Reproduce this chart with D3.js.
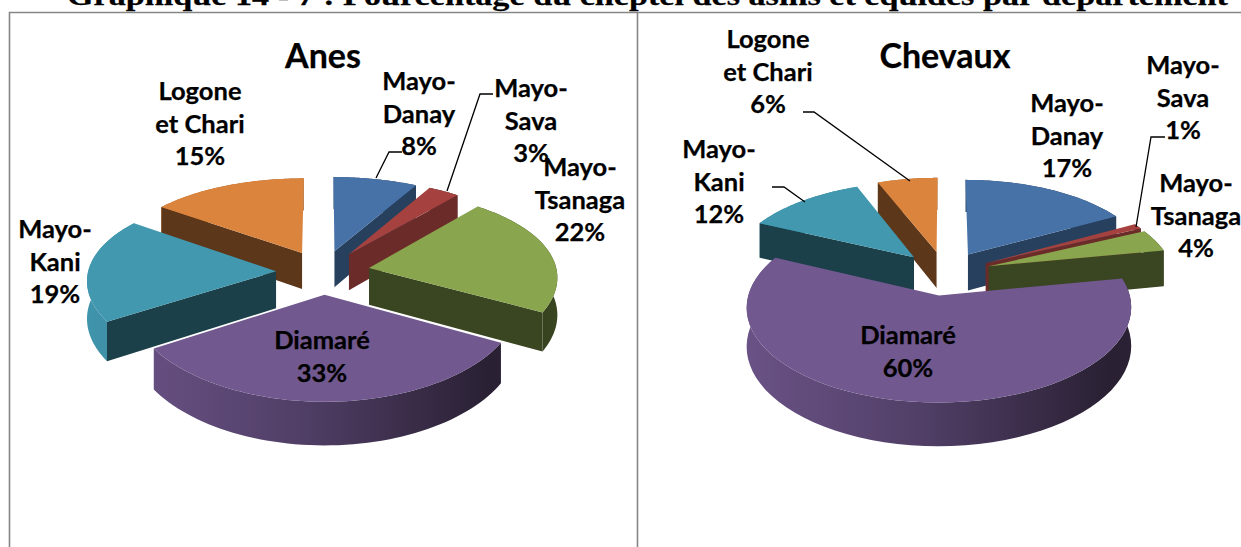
<!DOCTYPE html>
<html lang="fr">
<head>
<meta charset="utf-8">
<title>Graphique 14-7</title>
<script src="https://cdn.jsdelivr.net/npm/d3@7/dist/d3.min.js"></script>
<style>
html,body{margin:0;padding:0;background:#fff;overflow:hidden}
svg{display:block}
text{font-family:Lato,"Open Sans",sans-serif;font-weight:700;fill:#000;stroke:#000;stroke-width:.25px}
</style>
</head>
<body>
<svg id="chart" width="1241" height="547"></svg>
<script>
// ---- data ----
const departments = ["Mayo-Danay","Mayo-Sava","Mayo-Tsanaga","Diamaré","Mayo-Kani","Logone et Chari"];
const anesValues = [8,3,22,33,19,15];
const chevauxValues = [17,1,4,60,12,6];
const chartTitle = "Graphique 14 - 7 : Pourcentage du cheptel des asins et équidés par département";
const sliceColors = ["#4672a8","#a5423f","#89a54e","#71588f","#4198af","#db843d"];
const faceShade = [0.56,0.65,0.42,0.42,0.42,0.42];

// label text lines per department
const labelLines = [["Mayo-","Danay"],["Mayo-","Sava"],["Mayo-","Tsanaga"],["Diamaré"],["Mayo-","Kani"],["Logone","et Chari"]];

// ---- layout (pixels) ----
const W = 1241, H = 547;
const KR = 88, P = 0.122, EXPLODE = 0.25, DEPTH = 37;
const anesLayout = {
  title:"Anes", cx:323, cy:272, titleX:323, R:188, Px:0.09,
  labelPos:[[419,81],[531,88],[580,167],[322,340],[55,229],[200,91]],
  leaders:[[[376,178],[389,152],[402,152]],[[447,191],[480,94],[493,94]]]
};
const chevauxLayout = {
  title:"Chevaux", cx:945, cy:273, titleX:945, R:185, Px:0.122,
  labelPos:[[1067,103],[1183,65],[1196,183],[908,335],[719,149],[768,39]],
  leaders:[[[803,112],[814,112],[910,181]],[[772,187],[784,187],[805,202]],[[1165,137],[1151,137],[1136,227]]]
};
const LINE_H = 32.5;

const svg = d3.select("#chart");
const defs = svg.append("defs");
const pieGen = d3.pie().sort(null).value(d => d).startAngle(0).endAngle(2*Math.PI);
const lineGen = d3.line();
const scaled = (c, k) => { const r = d3.rgb(c); return d3.rgb(r.r*k, r.g*k, r.b*k).formatHex(); };

function drawPie(values, layout, key) {
  const {cx, cy, R, Px} = layout;
  const project = (X, Y, dz = 0) => {
    const f = 1/(1 - P*Y), fx = 1/(1 - Px*Y);
    return [cx + R*X*fx, cy + KR*Y*f + dz*f];
  };
  const slices = pieGen(values).map((a, i) => {
    const mid = (a.startAngle + a.endAngle)/2;
    return {...a, i, ox:EXPLODE*Math.sin(mid), oy:-EXPLODE*Math.cos(mid)};
  });
  const rim = (s, t) => [s.ox + Math.sin(t), s.oy - Math.cos(t)];
  const angles = s => d3.range(0, 61).map(j => s.startAngle + (s.endAngle - s.startAngle)*j/60);

  const grad = defs.selectAll(null).data(slices).enter().append("linearGradient")
    .attr("id", s => `${key}-wall-${s.i}`)
    .attr("gradientUnits","userSpaceOnUse")
    .attr("x1", cx - R*1.28).attr("x2", cx + R*1.28).attr("y1",0).attr("y2",0);
  grad.selectAll("stop").data(s => [[0,.98,s],[.45,.72,s],[.85,.36,s],[1,.42,s]]).enter().append("stop")
    .attr("offset", d => d[0])
    .attr("stop-color", d => scaled(sliceColors[d[2].i], d[1]));

  // far slices first, nearest last
  const order = slices.slice().sort((a, b) => {
    const my = s => s.oy - Math.cos((s.startAngle + s.endAngle)/2)*0.6;
    return my(a) - my(b);
  });
  const g = svg.append("g").attr("class","pie-"+key);
  const sel = g.selectAll("g.slice").data(order).enter().append("g").attr("class","slice");

  // outer wall
  sel.append("path")
    .attr("fill", s => `url(#${key}-wall-${s.i})`)
    .attr("d", s => {
      const top = angles(s).map(t => project(...rim(s, t)));
      const bot = angles(s).reverse().map(t => project(...rim(s, t), DEPTH));
      return lineGen(top.concat(bot)) + "Z";
    });
  // radial faces that look toward the viewer
  const faceFill = s => scaled(sliceColors[s.i], faceShade[s.i]);
  const face = (s, t) => {
    const a = [s.ox, s.oy], b = rim(s, t);
    return lineGen([project(...a), project(...b), project(...b, DEPTH), project(...a, DEPTH)]) + "Z";
  };
  sel.filter(s => -Math.sin(s.startAngle) > 1e-6).append("path")
    .attr("fill", faceFill).attr("d", s => face(s, s.startAngle));
  sel.filter(s => Math.sin(s.endAngle) > 1e-6).append("path")
    .attr("fill", faceFill).attr("d", s => face(s, s.endAngle));
  // top surface
  sel.append("path")
    .attr("fill", s => sliceColors[s.i])
    .attr("d", s => lineGen([project(s.ox, s.oy)].concat(angles(s).map(t => project(...rim(s, t))))) + "Z");

  // leader lines
  svg.append("g").selectAll("path").data(layout.leaders).enter().append("path")
    .attr("d", d => lineGen(d)).attr("fill","none").attr("stroke","#000").attr("stroke-width",1.3);

  // chart title
  svg.append("text").attr("x", layout.titleX).attr("y", 56).attr("dy","0.36em")
    .attr("text-anchor","middle").attr("font-size",34).text(layout.title);

  // data labels
  const labels = svg.append("g").selectAll("text").data(slices).enter().append("text")
    .attr("text-anchor","middle").attr("font-size",25.5);
  labels.selectAll("tspan").data(s => labelLines[s.i].concat([s.value + "%"]).map((t, n) => ({t, n, s}))).enter().append("tspan")
    .attr("x", d => layout.labelPos[d.s.i][0])
    .attr("y", d => layout.labelPos[d.s.i][1] + d.n*LINE_H)
    .attr("dy","0.36em")
    .text(d => d.t);
}

// frame
const frameColor = "#868686";
svg.append("path").attr("fill","none").attr("stroke",frameColor).attr("stroke-width",1.6)
  .attr("d", lineGen([[9.5,H],[9.5,12.5],[W,12.5]]));
svg.append("path").attr("fill","none").attr("stroke",frameColor).attr("stroke-width",1.6)
  .attr("d", lineGen([[637.5,12.5],[637.5,H]]));

drawPie(anesValues, anesLayout, "anes");
drawPie(chevauxValues, chevauxLayout, "chevaux");

// clipped page heading
svg.append("text").attr("x",67).attr("y",4.5)
  .attr("font-size",28).attr("textLength",1161).attr("lengthAdjust","spacingAndGlyphs")
  .style("font-family",'"Liberation Serif",serif').style("font-weight",700)
  .text(chartTitle);
</script>
</body>
</html>
